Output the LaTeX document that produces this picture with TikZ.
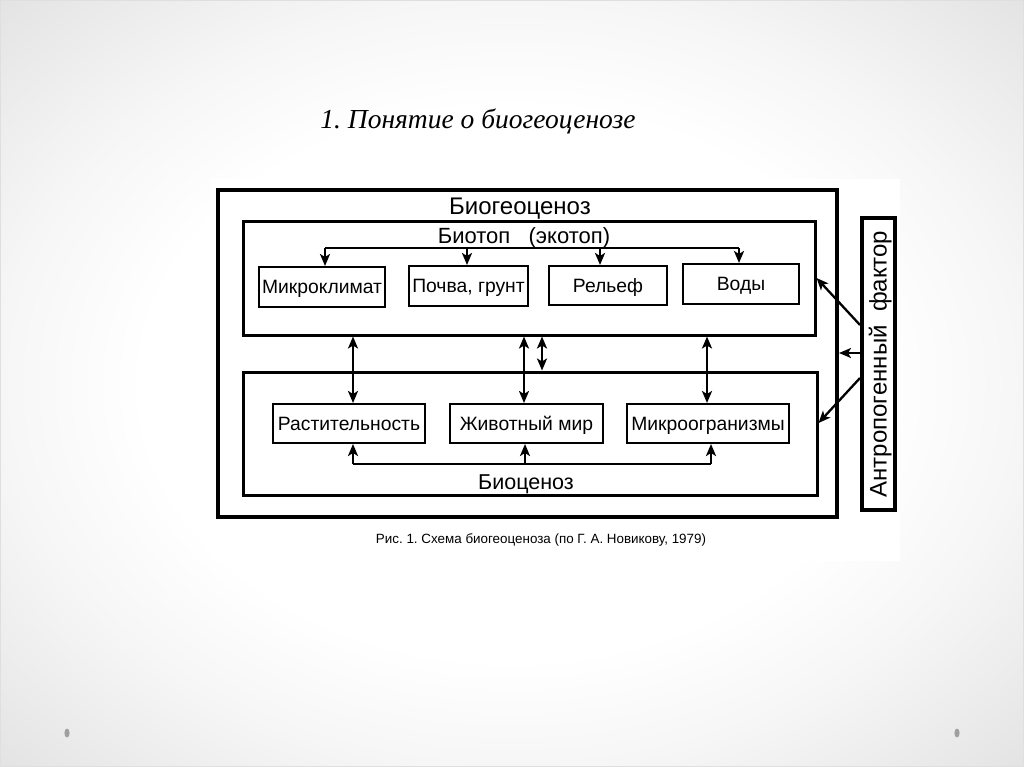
\documentclass[tikz,border=0pt]{standalone}
\usepackage{fontspec}
\setmainfont{Liberation Sans}
\newfontfamily\titlefont{Liberation Serif}
\usetikzlibrary{arrows.meta}
\pgfdeclareradialshading{slidebg}{\pgfpoint{0bp}{0bp}}{color(0bp)=(white); color(18bp)=(white); color(25bp)=(gray!7); color(30bp)=(gray!14); color(35.5bp)=(gray!22); color(50bp)=(gray!22)}
\begin{document}
\frenchspacing
\begin{tikzpicture}[x=1pt,y=-1pt,
  box/.style={draw=black, line width=2pt, minimum width=#1, inner sep=0pt, text height=13.5pt, text depth=0pt, font=\fontsize{19.3}{21}\selectfont},
  bigbox/.style={draw=black, inner sep=0pt},
  lbl/.style={inner sep=0pt, text height=15pt, text depth=0pt},
  tip/.tip={Stealth[length=12pt,width=10pt,inset=3pt]},
  arr/.style={line width=2.3pt, -tip},
  darr/.style={line width=2.3pt, tip-tip},
  bus/.style={line width=2.3pt}]
\useasboundingbox (0,0) rectangle (1024,767);
% slide background
\shade[shading=slidebg] (0,0) rectangle (1024,767);
\draw[gray!25, line width=0.8pt] (0.5,0.5) rectangle (1023.5,766.5);
\fill[gray!75] (67,733) ellipse (2.6 and 4.5);
\fill[gray!75] (957,733) ellipse (2.6 and 4.5);
% scanned figure area
\fill[white] (211,179) rectangle (900,561);
% title
\node[inner sep=0pt, font=\titlefont\itshape\fontsize{27.5}{30}\selectfont] (title) at (478,121) {1. Понятие о биогеоценозе};
% frames
\node[bigbox, line width=4pt, minimum width=619, minimum height=327] (outer) at (527.5,353.5) {};
\node[bigbox, line width=3pt, minimum width=572, minimum height=113] (biotope) at (529,278.5) {};
\node[bigbox, line width=3pt, minimum width=574, minimum height=123] (biocen) at (530,433.5) {};
\node[bigbox, line width=4pt, minimum width=33, minimum height=292] (factor) at (878.5,364) {};
\node[lbl, rotate=90, font=\fontsize{24}{26}\selectfont] (factortxt) at (879,364) {Антропогенный\ \ фактор};
% frame labels
\node[lbl, font=\fontsize{24}{26}\selectfont] (bgc) at (520,207) {Биогеоценоз};
\node[lbl, font=\fontsize{22}{24}\selectfont] (btp) at (524,236) {Биотоп\ \ \ (экотоп)};
\node[lbl, font=\fontsize{21.5}{24}\selectfont] (bcn) at (526,482) {Биоценоз};
% biotope boxes
\node[box=126, minimum height=40] (mk) at (322,287) {Микроклимат};
\node[box=119, minimum height=40] (pg) at (468.5,286) {Почва, грунт};
\node[box=118, minimum height=39] (rl) at (608,285.5) {Рельеф};
\node[box=116, minimum height=40] (vd) at (741,284) {Воды};
% biocenosis boxes
\node[box=152, minimum height=39] (rs) at (349,423.5) {Растительность};
\node[box=153, minimum height=39] (zm) at (526.5,423.5) {Животный мир};
\node[box=162, minimum height=39] (mo) at (708,423.5) {Микроогранизмы};
% top bus
\coordinate (t1) at (325,248);
\coordinate (t2) at (467,248);
\coordinate (t3) at (600,248);
\coordinate (t4) at (739,248);
\draw[bus] (t1) -- (t4);
\draw[arr] (t1) -- (t1 |- mk.north);
\draw[arr] (t2) -- (t2 |- pg.north);
\draw[arr] (t3) -- (t3 |- rl.north);
\draw[arr] (t4) -- (t4 |- vd.north);
% bottom bus
\coordinate (u1) at (353,464);
\coordinate (u2) at (525,464);
\coordinate (u3) at (711,464);
\draw[bus] (u1) -- (u3);
\draw[arr] (u1) -- (u1 |- rs.south);
\draw[arr] (u2) -- (u2 |- zm.south);
\draw[arr] (u3) -- (u3 |- mo.south);
% vertical links
\coordinate (v1) at (353,0);
\coordinate (v2) at (524,0);
\coordinate (v3) at (542,0);
\coordinate (v4) at (707,0);
\draw[darr] (v1 |- biotope.south) -- (v1 |- rs.north);
\draw[darr] (v2 |- biotope.south) -- (v2 |- zm.north);
\draw[darr] (v3 |- biotope.south) -- (v3 |- biocen.north);
\draw[darr] (v4 |- biotope.south) -- (v4 |- mo.north);
% anthropogenic arrows
\coordinate (f1) at (0,325);
\coordinate (f2) at (0,353);
\coordinate (f3) at (0,378);
\coordinate (e1) at (0,278);
\coordinate (e3) at (0,423);
\draw[arr] (factor.west |- f1) -- (biotope.east |- e1);
\draw[arr] (factor.west |- f2) -- (outer.east |- f2);
\draw[arr] (factor.west |- f3) -- (biocen.east |- e3);
% caption
\node[inner sep=0pt, font=\fontsize{13.4}{15}\selectfont] (cap) at (541,540) {Рис. 1. Схема биогеоценоза (по Г. А. Новикову, 1979)};
\end{tikzpicture}
\end{document}
